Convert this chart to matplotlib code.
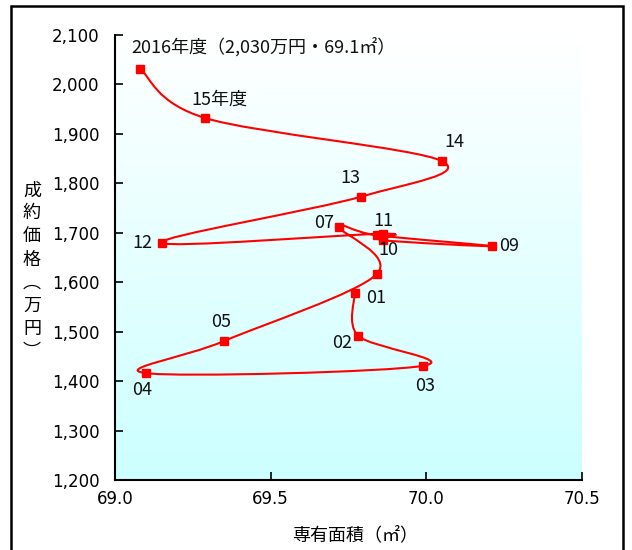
import numpy as np
import matplotlib
matplotlib.use("Agg")
import matplotlib.pyplot as plt
from matplotlib.path import Path
from matplotlib.patches import PathPatch, Rectangle

# ---- data ----
years = ["01", "02", "03", "04", "05", "06", "07", "08", "09", "10", "11", "12", "13", "14", "15", "16"]
area = [69.77, 69.78, 69.99, 69.10, 69.35, 69.84, 69.72, 69.84, 70.21, 69.86, 69.86, 69.15, 69.79, 70.05, 69.29, 69.08]
price = [1578, 1492, 1431, 1416, 1481, 1616, 1712, 1695, 1673, 1685, 1698, 1680, 1773, 1845, 1932, 2032]
point_labels = ["01", "02", "03", "04", "05", "", "07", "", "09", "10", "11", "12", "13", "14",
                "15年度", "2016年度（2,030万円・69.1㎡）"]
xticks = [69.0, 69.5, 70.0, 70.5]
yticks = [1200, 1300, 1400, 1500, 1600, 1700, 1800, 1900, 2000, 2100]
xlabel = "専有面積（㎡）"
ylabel_chars = ["成", "約", "価", "格", "︵", "万", "円", "︶"]

# label offsets in pixels (dx, dy, ha)
offsets = {
    "01": (21, -5, "center"), "02": (-16, -7, "center"), "03": (2, -20, "center"),
    "04": (-4, -17, "center"), "05": (-3, 19, "center"), "07": (-15, 4, "center"),
    "09": (17, 0, "center"), "10": (6, -10, "center"), "11": (1, 13, "center"),
    "12": (-19, 0, "center"), "13": (-11, 19, "center"), "14": (12, 19, "center"),
    "15年度": (-14, 18, "left"), "2016年度（2,030万円・69.1㎡）": (-9, 22, "left"),
}

JP = ["Noto Sans CJK JP", "DejaVu Sans"]
NUM = ["DejaVu Sans"]

fig = plt.figure(figsize=(6.32, 5.5), dpi=100)
ax = fig.add_axes([115 / 632, 1 - 480 / 550, (582 - 115) / 632, (480 - 35) / 550])

# gradient background
grad = np.linspace(0, 1, 256).reshape(-1, 1)
top = np.array([1.0, 1.0, 1.0])
bot = np.array([0.80, 1.0, 1.0])
img = top[None, None, :] * (1 - grad[:, :, None]) + bot[None, None, :] * grad[:, :, None]
ax.imshow(img, extent=[0, 1, 0, 1], transform=ax.transAxes, aspect="auto", zorder=0)

ax.set_xlim(69.0, 70.5)
ax.set_ylim(1200, 2100)

# smooth line (Excel-like Catmull-Rom bezier)
P = np.column_stack([area, price]).astype(float)
n = len(P)
verts = [tuple(P[0])]
codes = [Path.MOVETO]
for i in range(n - 1):
    p0 = P[i - 1] if i > 0 else P[i]
    p1 = P[i]
    p2 = P[i + 1]
    p3 = P[i + 2] if i + 2 < n else P[i + 1]
    c1 = p1 + (p2 - p0) / 6.0
    c2 = p2 - (p3 - p1) / 6.0
    verts += [tuple(c1), tuple(c2), tuple(p2)]
    codes += [Path.CURVE4] * 3
ax.add_patch(PathPatch(Path(verts, codes), facecolor="none", edgecolor="#ff0000", lw=1.5, zorder=3))
ax.plot(area, price, linestyle="none", marker="s", markersize=5.5, color="#ff0000", zorder=4)

for x, y, lab in zip(area, price, point_labels):
    if not lab:
        continue
    dx, dy, ha = offsets[lab]
    ax.annotate(lab, (x, y), xytext=(dx, dy), textcoords="offset pixels",
                ha=ha, va="center", fontsize=13, family=JP, color="#111111", zorder=5)

ax.set_xticks(xticks)
ax.set_xticklabels([f"{v:.1f}" for v in xticks], family=NUM, fontsize=12)
ax.set_yticks(yticks)
ax.set_yticklabels([f"{v:,}" for v in yticks], family=NUM, fontsize=12)
ax.tick_params(direction="in", length=6, width=1.2, color="black", pad=7)
ax.tick_params(axis="y", pad=11)
for s in ["top", "right"]:
    ax.spines[s].set_visible(False)
for s in ["left", "bottom"]:
    ax.spines[s].set_linewidth(1.5)
    ax.spines[s].set_color("black")

ax.set_xlabel(xlabel, family=JP, fontsize=13)
ax.xaxis.set_label_coords((355 - 115) / 467, -0.105)
fig.text(32 / 632, 1 - 271 / 550, "\n".join(ylabel_chars), family=JP, fontsize=13,
         ha="center", va="center", linespacing=1.36)

# outer frame
fig.patches.append(Rectangle((11 / 632, -0.05), (623 - 11) / 632, 1.05 - 6 / 550,
                             transform=fig.transFigure, fill=False, edgecolor="black",
                             lw=1.8, clip_on=False))

fig.savefig("out.png", dpi=100)
